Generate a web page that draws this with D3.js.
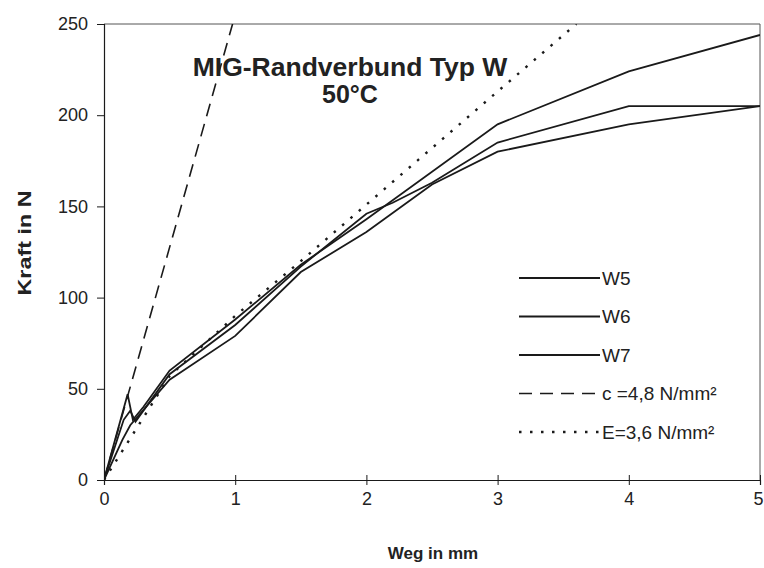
<!DOCTYPE html>
<html><head><meta charset="utf-8">
<script src="https://cdn.jsdelivr.net/npm/d3@7"></script>
<style>
html,body{margin:0;padding:0;background:#fff;}
svg{display:block;font-family:Arial,"Liberation Sans",sans-serif;}
</style></head>
<body><svg id="c" width="764" height="568"></svg>
<script>
// ---- data ----
const xTicks = [0,1,2,3,4,5];
const yTicks = [0,50,100,150,200,250];
const seriesNames = ["W5","W6","W7","c =4,8 N/mm²","E=3,6 N/mm²"];
const w5 = [[0,0],[0.18,47],[0.22,33],[0.3,40],[0.5,60],[1,88],[1.5,118],[2,143],[3,195],[4,224],[5,244]];
const w6 = [[0,0],[0.15,33],[0.2,38],[0.24,32],[0.5,58],[1,85],[1.5,117],[2,146],[2.2,152],[2.5,163],[3,185],[4,205],[5,205]];
const w7 = [[0,0],[0.14,22],[0.2,30],[0.5,55],[1,79],[1.5,114],[2,136],[2.5,162],[3,180],[4,195],[5,205]];
const cLine = [[0,0],[0.98,250]];
const eLine = [[0,0],[0.5,57],[1,90],[1.5,120],[2,151],[2.5,182],[3,213],[3.6,250]];
const title1 = "MIG-Randverbund Typ W";
const title2 = "50°C";
const xTitle = "Weg in mm";
const yTitle = "Kraft in N";

const svg = d3.select("#c");
const x = d3.scaleLinear().domain([0,5]).range([104,760]);
const y = d3.scaleLinear().domain([0,250]).range([480,24]);
const ink = "#1a1a1a";

// frame (top & right)
svg.append("path").attr("d",`M${x(0)},${y(250)}H${x(5)}V${y(0)}`)
  .attr("fill","none").attr("stroke","#555").attr("stroke-width",1);

// axes
const gx = svg.append("g").attr("transform",`translate(0,${y(0)})`)
  .call(d3.axisBottom(x).tickValues(xTicks).tickSizeOuter(0).tickSize(5).tickPadding(7).tickFormat(d3.format("d")));
gx.selectAll(".tick line").attr("y1",-5).attr("y2",5);
gx.selectAll(".tick").filter(d=>d===5).select("text").attr("dx",-2);
const gy = svg.append("g").attr("transform",`translate(${x(0)},0)`)
  .call(d3.axisLeft(y).tickValues(yTicks).tickSizeOuter(0).tickSize(7).tickPadding(9).tickFormat(d3.format("d")));
[gx,gy].forEach(g=>{
  g.select(".domain").attr("stroke",ink).attr("stroke-width",1.2);
  g.selectAll(".tick line").attr("stroke",ink);
  g.selectAll(".tick text").attr("font-size",18).attr("fill","#222").attr("font-family","Arial, 'Liberation Sans', sans-serif");
});

// lines
const line = d3.line().x(d=>x(d[0])).y(d=>y(d[1]));
svg.append("defs").append("clipPath").attr("id","clip")
  .append("rect").attr("x",x(0)).attr("y",y(250)).attr("width",x(5)-x(0)).attr("height",y(0)-y(250));
const plot = svg.append("g").attr("clip-path","url(#clip)");
const styles = [
  {d:w5, dash:null, w:1.8},
  {d:w6, dash:null, w:1.8},
  {d:w7, dash:null, w:1.8},
  {d:cLine, dash:"13,8", w:1.6},
  {d:eLine, dash:"2.5,8.5", w:2.4}
];
styles.forEach(s=>{
  plot.append("path").datum(s.d).attr("d",line).attr("fill","none")
    .attr("stroke",ink).attr("stroke-width",s.w)
    .attr("stroke-dasharray",s.dash);
});

// legend
const lg = svg.append("g");
seriesNames.forEach((n,i)=>{
  const yy = 278 + i*38.5;
  lg.append("line").attr("x1",519).attr("x2",600).attr("y1",yy).attr("y2",yy)
    .attr("stroke",ink).attr("stroke-width",styles[i].w)
    .attr("stroke-dasharray",styles[i].dash);
  lg.append("text").attr("x",602).attr("y",yy+6.5).attr("font-size",19).attr("fill","#222").text(n);
});

// titles
svg.append("text").attr("x",350).attr("y",76).attr("text-anchor","middle")
  .attr("font-size",26.5).attr("font-weight","bold").attr("fill","#222").text(title1);
svg.append("text").attr("x",350).attr("y",103).attr("text-anchor","middle")
  .attr("font-size",25).attr("font-weight","bold").attr("fill","#222").text(title2);
svg.append("text").attr("x",433).attr("y",559).attr("text-anchor","middle")
  .attr("font-size",17).attr("font-weight","bold").attr("fill","#222").text(xTitle);
svg.append("text").attr("transform","translate(31,243) rotate(-90)").attr("text-anchor","middle")
  .attr("font-size",18).attr("font-weight","bold").attr("fill","#222")
  .attr("textLength",105).attr("lengthAdjust","spacingAndGlyphs").text(yTitle);
</script></body></html>
